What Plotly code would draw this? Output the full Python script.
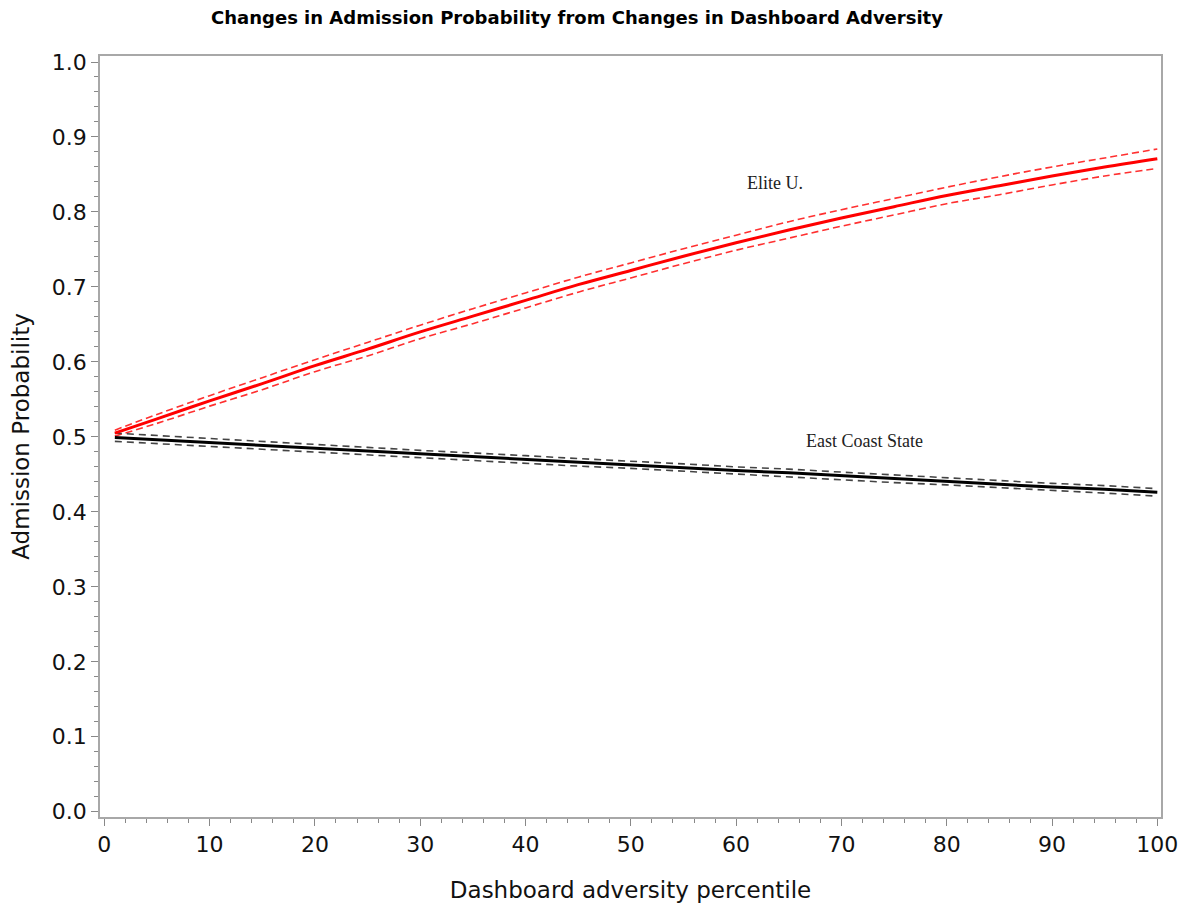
import plotly.graph_objects as go

x_vals = [1, 5, 10, 15, 20, 25, 30, 35, 40, 45, 50, 55, 60, 65, 70, 75, 80, 85, 90, 95, 100]

elite_mean = [0.505, 0.524, 0.548, 0.571, 0.595, 0.617, 0.640, 0.661, 0.682, 0.703, 0.722,
              0.741, 0.759, 0.776, 0.792, 0.807, 0.822, 0.835, 0.848, 0.860, 0.871]
elite_upper = [0.509, 0.530, 0.555, 0.579, 0.603, 0.626, 0.649, 0.671, 0.692, 0.713, 0.732,
               0.751, 0.769, 0.787, 0.803, 0.818, 0.833, 0.847, 0.860, 0.872, 0.884]
elite_lower = [0.501, 0.518, 0.541, 0.563, 0.587, 0.608, 0.631, 0.651, 0.672, 0.693, 0.712,
               0.731, 0.749, 0.765, 0.781, 0.796, 0.811, 0.823, 0.836, 0.848, 0.858]

east_mean = [0.499, 0.496, 0.492, 0.489, 0.485, 0.481, 0.477, 0.474, 0.470, 0.466, 0.463,
             0.459, 0.455, 0.452, 0.448, 0.444, 0.441, 0.437, 0.433, 0.430, 0.426]
east_upper = [0.505, 0.502, 0.498, 0.494, 0.490, 0.486, 0.482, 0.479, 0.475, 0.471, 0.468,
              0.464, 0.460, 0.457, 0.453, 0.449, 0.446, 0.442, 0.438, 0.435, 0.431]
east_lower = [0.494, 0.491, 0.487, 0.484, 0.480, 0.476, 0.472, 0.469, 0.465, 0.461, 0.458,
              0.454, 0.450, 0.447, 0.443, 0.439, 0.436, 0.432, 0.428, 0.425, 0.421]

fig = go.Figure()

for series in [elite_upper, elite_lower]:
    fig.add_trace(go.Scatter(x=x_vals, y=series, mode="lines", showlegend=False,
                             line=dict(color="#ff3030", width=1.6, dash="7px,4px", shape="spline")))
for series in [east_upper, east_lower]:
    fig.add_trace(go.Scatter(x=x_vals, y=series, mode="lines", showlegend=False,
                             line=dict(color="#444444", width=1.6, dash="7px,5px")))

fig.add_trace(go.Scatter(x=x_vals, y=elite_mean, mode="lines", showlegend=False,
                         line=dict(color="#ff0000", width=3, shape="spline")))
fig.add_trace(go.Scatter(x=x_vals, y=east_mean, mode="lines", showlegend=False,
                         line=dict(color="#000000", width=3)))

fig.add_annotation(x=63.7, y=0.838, text="Elite U.", showarrow=False,
                   font=dict(family="Liberation Serif", size=18, color="#222222"))
fig.add_annotation(x=72.2, y=0.494, text="East Coast State", showarrow=False,
                   font=dict(family="Liberation Serif", size=18, color="#222222"))

axis_common = dict(showgrid=False, zeroline=False, showline=True, linecolor="#a8a8a8",
                   linewidth=1.5, mirror=True, ticks="outside", tickcolor="#888888",
                   tickwidth=1, ticklen=7, automargin=False,
                   tickfont=dict(family="DejaVu Sans", size=22, color="#111111"),
                   title_font=dict(family="DejaVu Sans", size=23, color="#111111"))

fig.update_xaxes(**axis_common, range=[-0.41, 100.35], tickmode="array",
                 tickvals=[0, 10, 20, 30, 40, 50, 60, 70, 80, 90, 100],
                 minor=dict(ticks="outside", dtick=2, tick0=0, ticklen=4, tickcolor="#888888"),
                 title_text="Dashboard adversity percentile", title_standoff=28)
fig.update_yaxes(**axis_common, range=[-0.007, 1.008], tickmode="array",
                 tickvals=[0.0, 0.1, 0.2, 0.3, 0.4, 0.5, 0.6, 0.7, 0.8, 0.9, 1.0],
                 ticktext=["0.0", "0.1", "0.2", "0.3", "0.4", "0.5", "0.6", "0.7", "0.8", "0.9", "1.0"],
                 minor=dict(ticks="outside", dtick=0.02, tick0=0, ticklen=4, tickcolor="#888888"),
                 title_text="Admission Probability", title_standoff=18)

fig.update_layout(
    width=1172, height=895,
    margin=dict(l=92, r=19, t=48, b=86),
    plot_bgcolor="white", paper_bgcolor="white",
    title=dict(text="<b>Changes in Admission Probability from Changes in Dashboard Adversity</b>",
               x=0.4855, xanchor="center", y=0.9888, yanchor="middle",
               font=dict(family="DejaVu Sans", size=18, color="#000000")),
)

fig.write_html("out.html")
